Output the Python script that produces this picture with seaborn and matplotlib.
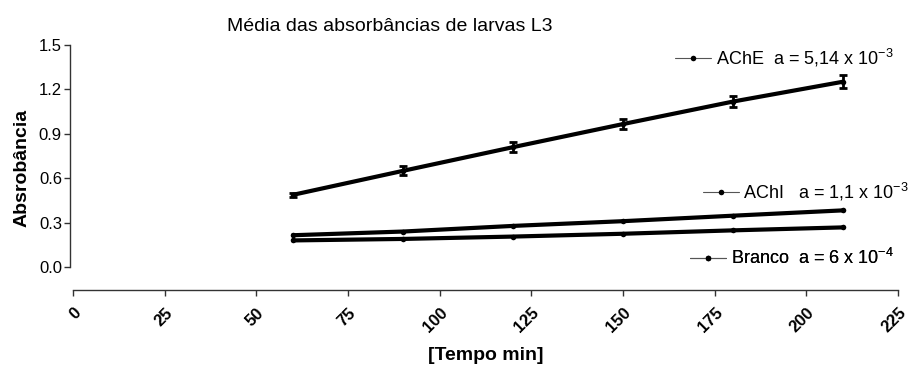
import numpy as np
import pandas as pd
import seaborn as sns
import matplotlib.pyplot as plt
from matplotlib.lines import Line2D

# tempo (min)
tempo = [60, 90, 120, 150, 180, 210]

# absorbancias medias
ache = [0.488, 0.650, 0.810, 0.966, 1.118, 1.252]
ache_err = [0.015, 0.030, 0.035, 0.035, 0.040, 0.045]
achi = [0.215, 0.240, 0.278, 0.310, 0.347, 0.383]
branco = [0.180, 0.190, 0.206, 0.225, 0.248, 0.268]

series = ["AChE", "AChI", "Branco"]
legend_labels = ["AChE  a = 5,14 x 10$^{-3}$",
                 "AChI   a = 1,1 x 10$^{-3}$",
                 "Branco  a = 6 x 10$^{-4}$"]
xticks = [0, 25, 50, 75, 100, 125, 150, 175, 200, 225]
yticks = [0.0, 0.3, 0.6, 0.9, 1.2, 1.5]

sns.set_style("ticks")
plt.rcParams['font.family'] = ['Liberation Sans', 'DejaVu Sans']
plt.rcParams['mathtext.fontset'] = 'custom'
plt.rcParams['mathtext.rm'] = 'Liberation Sans'
plt.rcParams['mathtext.it'] = 'Liberation Sans'
for k in ['text.color', 'axes.labelcolor', 'xtick.color', 'ytick.color']:
    plt.rcParams[k] = 'black'

data = []
for name, vals in zip(series, [ache, achi, branco]):
    for t, v in zip(tempo, vals):
        data.append([name, t, v])
df = pd.DataFrame(data, columns=["Serie", "Tempo", "Abs"])

fig = plt.figure(figsize=(9.13, 3.71), dpi=100)
ax = fig.add_axes([0.08, 0.2183, 0.9036, 0.6604])

sns.lineplot(data=df, x="Tempo", y="Abs", hue="Serie", palette=["black"] * 3,
             linewidth=3, marker="o", markersize=4, markeredgewidth=0,
             legend=False, ax=ax)
ax.errorbar(tempo, ache, yerr=ache_err, fmt="none", ecolor="black",
            elinewidth=2, capsize=3, capthick=2)

ax.set_xlim(0, 225)
ax.set_ylim(-0.155, 1.5)
ax.tick_params(axis="both", length=4, width=1, color="#333333",
               labelsize=12)
ax.tick_params(axis="y", pad=2)
ax.tick_params(axis="x", pad=7)
ax.set_xticks(xticks)
ax.set_xticklabels([str(t) for t in xticks], rotation=45, ha="right",
                   va="top", rotation_mode="anchor")
ax.set_yticks(yticks)
ax.set_yticklabels(["%.1f" % t for t in yticks])
for tick in ax.xaxis.get_major_ticks() + ax.yaxis.get_major_ticks():
    tick.label1.set_fontweight("bold")
    tick.label1.set_fontsize(12)

sns.despine(ax=ax)
ax.spines["left"].set_bounds(0, 1.5)
ax.spines["left"].set_position(("outward", 2))
ax.spines["bottom"].set_bounds(0, 225)
for s in ["left", "bottom"]:
    ax.spines[s].set_linewidth(1)
    ax.spines[s].set_color("#333333")

ax.set_xlabel("[Tempo min]", fontsize=14, fontweight="bold", labelpad=8)
ax.set_ylabel("Absrobância", fontsize=14, fontweight="bold", labelpad=6)
ax.set_title("Média das absorbâncias de larvas L3", fontsize=14, x=0.384, pad=10)

# legendas separadas
positions = [(0.73, 0.947), (0.763, 0.40), (0.748, 0.131)]
for lbl, pos in zip(legend_labels, positions):
    h = Line2D([], [], color="#555555", linewidth=0.8, marker="o",
               markersize=4, markerfacecolor="black", markeredgewidth=0)
    leg = ax.legend([h], [lbl], loc="center left", bbox_to_anchor=pos,
                    frameon=False, fontsize=13, handlelength=2.0,
                    handletextpad=0.25, borderpad=0, borderaxespad=0)
    ax.add_artist(leg)

fig.savefig("out.png", dpi=100)
